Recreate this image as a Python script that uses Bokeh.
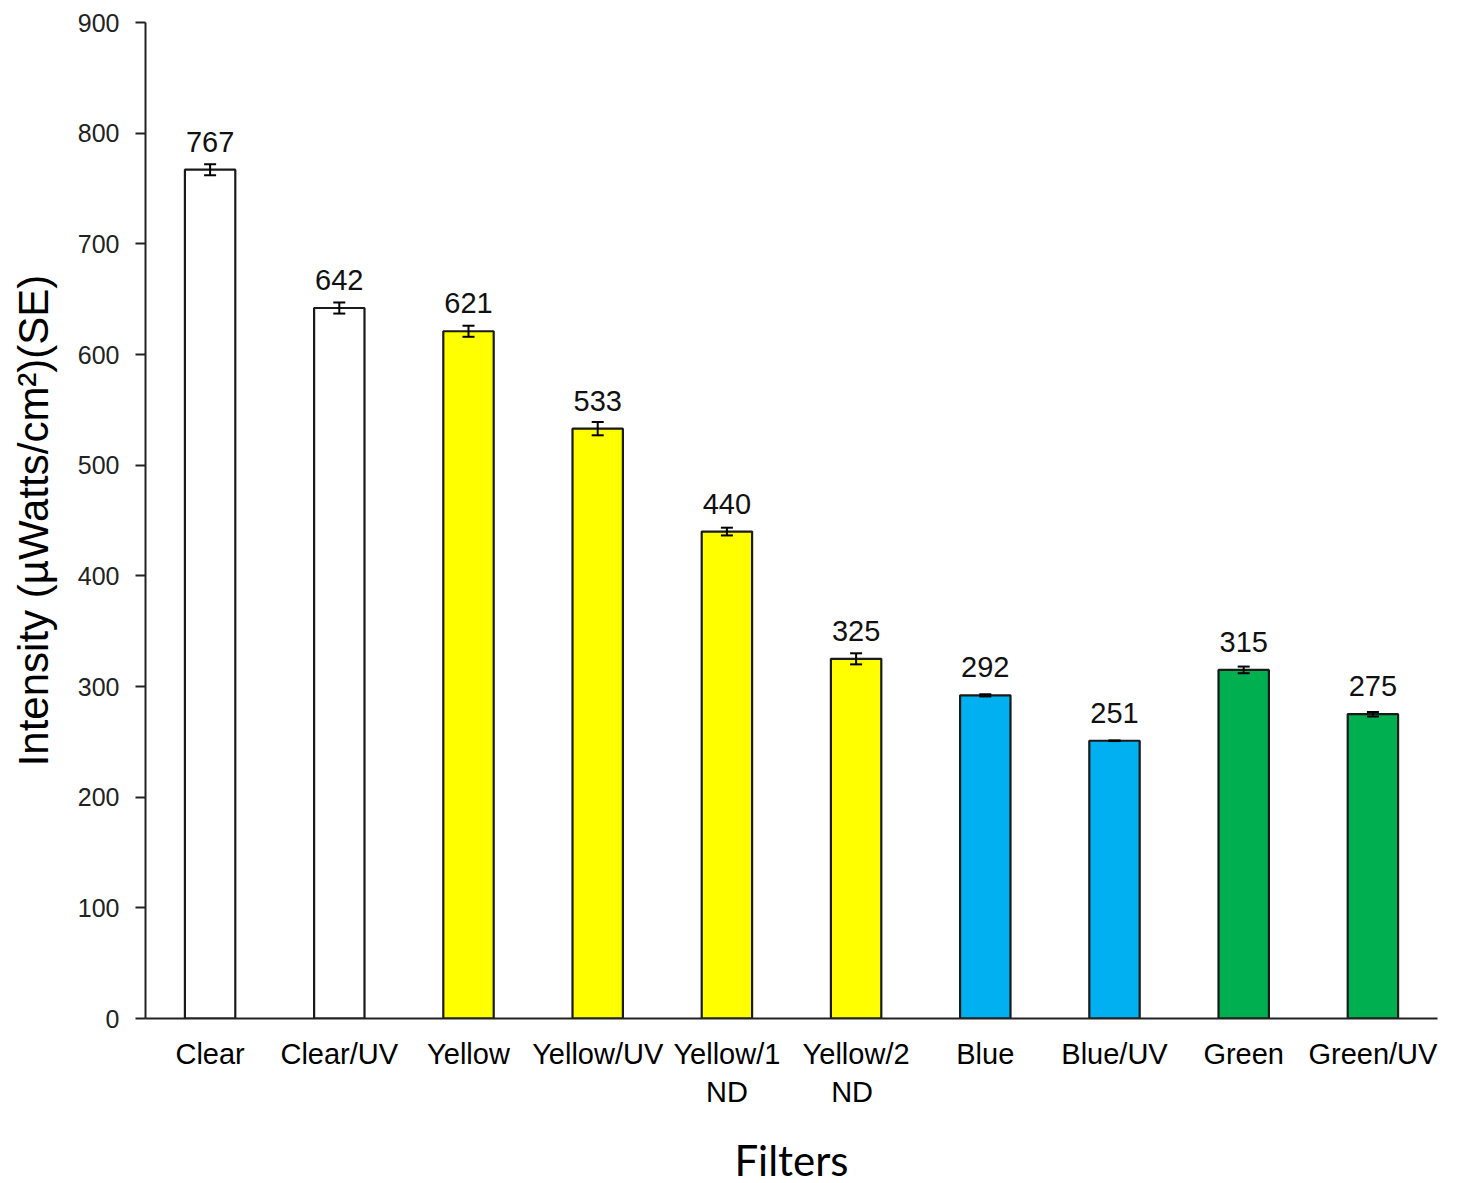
from bokeh.plotting import figure
from bokeh.models import (ColumnDataSource, Range1d, FactorRange, FixedTicker, Whisker, TeeHead,
                          LabelSet, CategoricalAxis)
from bokeh.core.properties import value
from bokeh.embed import file_html
from bokeh.resources import INLINE

# first line of each category label (used as the factors)
filters = ["Clear", "Clear/UV", "Yellow", "Yellow/UV", "Yellow/1", "Yellow/2",
           "Blue", "Blue/UV", "Green", "Green/UV"]
# second line of the category labels (blank entries made unique with spaces)
label_line2 = [" ", "  ", "   ", "    ", "ND", " ND", "     ", "      ", "       ", "        "]
intensity = [767, 642, 621, 533, 440, 325, 292, 251, 315, 275]
se = [5, 5, 5, 6, 3.5, 5, 1, 0.3, 3, 2]
bar_colors = ["#FFFFFF", "#FFFFFF", "#FFFF00", "#FFFF00", "#FFFF00", "#FFFF00",
              "#00B0F0", "#00B0F0", "#00B050", "#00B050"]
y_ticks = [0, 100, 200, 300, 400, 500, 600, 700, 800, 900]

src = ColumnDataSource(dict(
    x=filters, top=intensity, color=bar_colors,
    upper=[v + e for v, e in zip(intensity, se)],
    lower=[v - e for v, e in zip(intensity, se)],
    label=[str(v) for v in intensity],
))

p = figure(x_range=FactorRange(*filters), y_range=Range1d(0, 900),
           width=1460, height=1183, frame_width=1292, frame_height=996,
           min_border_left=145, min_border_top=22, min_border_right=23, min_border_bottom=0,
           output_backend="svg", toolbar_location=None)
p.extra_x_ranges = {"line2": FactorRange(*label_line2)}
p.outline_line_color = None
p.xgrid.grid_line_color = None
p.ygrid.grid_line_color = None
p.background_fill_color = "white"
p.border_fill_color = "white"

p.vbar(x="x", top="top", width=0.39, bottom=0, source=src,
       fill_color="color", line_color="#1a1a1a", line_width=2.2)

w = Whisker(base="x", upper="upper", lower="lower", source=src,
            line_color="black", line_width=2, level="overlay",
            upper_head=TeeHead(size=12, line_color="black", line_width=2),
            lower_head=TeeHead(size=12, line_color="black", line_width=2))
p.add_layout(w)

labels = LabelSet(x="x", y="top", text="label", source=src, y_offset=18,
                  text_align="center", text_baseline="bottom",
                  text_font=value("Liberation Sans"), text_font_size="29px",
                  text_color="#111111")
p.add_layout(labels)

# y axis
p.yaxis.ticker = FixedTicker(ticks=y_ticks)
p.yaxis.axis_line_color = "#222222"
p.yaxis.axis_line_width = 2
p.yaxis.major_tick_line_color = "#222222"
p.yaxis.major_tick_line_width = 2
p.yaxis.major_tick_out = 10
p.yaxis.major_tick_in = 0
p.yaxis.minor_tick_line_color = None
p.yaxis.major_label_standoff = 16
p.yaxis.major_label_text_font = "Liberation Sans"
p.yaxis.major_label_text_font_size = "25px"
p.yaxis.major_label_text_color = "#222222"
p.yaxis.axis_label = "Intensity (µWatts/cm²)(SE)"
p.yaxis.axis_label_text_font = "Liberation Sans"
p.yaxis.axis_label_text_font_size = "42px"
p.yaxis.axis_label_text_font_style = "normal"
p.yaxis.axis_label_text_color = "black"
p.yaxis.axis_label_standoff = 18

# x axis (first line of labels)
xa = p.xaxis[0]
xa.axis_line_color = "#222222"
xa.axis_line_width = 2
xa.major_tick_line_color = None
xa.major_tick_out = 0
xa.major_tick_in = 0
xa.minor_tick_line_color = None
xa.major_label_standoff = 19
xa.major_label_text_font = "Liberation Sans"
xa.major_label_text_font_size = "29px"
xa.major_label_text_color = "black"

# second line of labels + axis title
xb = CategoricalAxis(x_range_name="line2")
xb.axis_line_color = None
xb.major_tick_line_color = None
xb.major_tick_out = 0
xb.major_tick_in = 0
xb.minor_tick_line_color = None
xb.major_label_standoff = 3
xb.major_label_text_font = "Liberation Sans"
xb.major_label_text_font_size = "29px"
xb.major_label_text_color = "black"
xb.axis_label = "Filters"
xb.axis_label_text_font = "Lato"
xb.axis_label_text_font_size = "42px"
xb.axis_label_text_font_style = "normal"
xb.axis_label_text_color = "black"
xb.axis_label_standoff = 24
p.add_layout(xb, "below")

open("out.html", "w").write(file_html(p, INLINE))
